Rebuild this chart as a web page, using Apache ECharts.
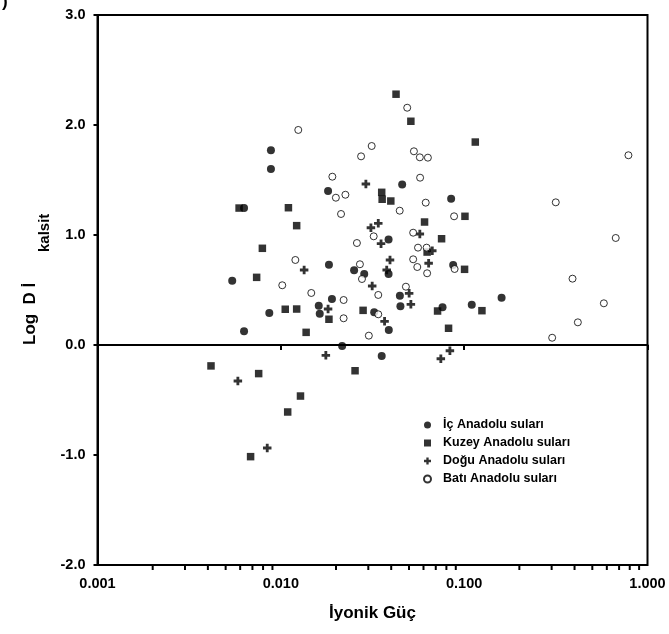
<!DOCTYPE html>
<html>
<head>
<meta charset="utf-8">
<script src="https://cdn.jsdelivr.net/npm/echarts@6/dist/echarts.min.js"></script>
<style>
  html, body { margin: 0; padding: 0; background: #fff; }
  #chart { width: 669px; height: 634px; }
</style>
</head>
<body>
<div id="chart"></div>
<script>
// İç Anadolu suları (dolu daire)
let icX = [0.00883, 0.00883, 0.0181, 0.0063, 0.0459, 0.0849, 0.0387, 0.0183, 0.00543, 0.0251,
	0.0285, 0.0387, 0.0871, 0.0446, 0.0449, 0.0190, 0.0161, 0.0163, 0.00865, 0.0063,
	0.0323, 0.0388, 0.0762, 0.110, 0.160, 0.0216, 0.0355];
let icY = [1.77, 1.60, 1.40, 1.245, 1.46, 1.33, 0.96, 0.73, 0.585, 0.68,
	0.645, 0.645, 0.727, 0.448, 0.352, 0.418, 0.357, 0.285, 0.291, 0.125,
	0.297, 0.136, 0.343, 0.366, 0.43, -0.01, -0.10];

// Kuzey Anadolu suları (dolu kare)
let kuzeyX = [0.0425, 0.0512, 0.115, 0.0355, 0.0357, 0.0398, 0.00592, 0.011, 0.101, 0.0608,
	0.0122, 0.0753, 0.00793, 0.0628, 0.1005, 0.00738, 0.01057, 0.0122, 0.0281, 0.0716,
	0.125, 0.0183, 0.01374, 0.0822, 0.00416, 0.0254, 0.00757, 0.0128, 0.0109, 0.00684];
let kuzeyY = [2.28, 2.034, 1.845, 1.388, 1.325, 1.309, 1.245, 1.248, 1.17, 1.118,
	1.085, 0.966, 0.879, 0.845, 0.688, 0.615, 0.325, 0.327, 0.315, 0.309,
	0.312, 0.234, 0.115, 0.152, -0.19, -0.234, -0.26, -0.464, -0.609, -1.015];

// Doğu Anadolu suları (artı)
let doguX = [0.0291, 0.034, 0.031, 0.0352, 0.0573, 0.067, 0.0394, 0.064, 0.0134, 0.0378,
	0.0315, 0.0501, 0.0512, 0.0181, 0.0368, 0.0176, 0.0836, 0.0746, 0.00583, 0.00843];
let doguY = [1.464, 1.106, 1.066, 0.921, 1.009, 0.857, 0.773, 0.743, 0.682, 0.682,
	0.536, 0.47, 0.37, 0.327, 0.215, -0.094, -0.052, -0.125, -0.327, -0.936];

// Batı Anadolu suları (boş daire)
let batiX = [0.01245, 0.0489, 0.0313, 0.0274, 0.0532, 0.0573, 0.0634, 0.0575, 0.0191, 0.01996,
	0.0225, 0.0617, 0.0445, 0.0213, 0.0881, 0.0321, 0.026, 0.0527, 0.056, 0.0624,
	0.0527, 0.0555, 0.0628, 0.0887, 0.027, 0.0277, 0.012, 0.01018, 0.01466, 0.034,
	0.0481, 0.022, 0.022, 0.034, 0.0302, 0.787, 0.316, 0.671, 0.39, 0.578,
	0.417, 0.302];
let batiY = [1.955, 2.157, 1.809, 1.715, 1.761, 1.706, 1.703, 1.521, 1.53, 1.339,
	1.366, 1.294, 1.221, 1.191, 1.17, 0.988, 0.927, 1.021, 0.885, 0.885,
	0.779, 0.709, 0.652, 0.691, 0.734, 0.60, 0.773, 0.543, 0.473, 0.455,
	0.53, 0.409, 0.243, 0.279, 0.085, 1.725, 1.297, 0.973, 0.603, 0.379,
	0.206, 0.066];

// log eksenindeki ara çentikler
let minorTicks = [0.002, 0.003, 0.004, 0.005, 0.006, 0.007, 0.008, 0.009,
	0.02, 0.03, 0.04, 0.05, 0.06, 0.07, 0.08, 0.09,
	0.2, 0.3, 0.4, 0.5, 0.6, 0.7, 0.8, 0.9];

let seriesNames = ['İç Anadolu suları', 'Kuzey Anadolu suları', 'Doğu Anadolu suları', 'Batı Anadolu suları'];

let font = 'Arial, "Liberation Sans", Helvetica, sans-serif';
let plusPath = 'path://M3,0H6V3H9V6H6V9H3V6H0V3H3Z';

function pairs(xs, ys) {
	return xs.map((x, i) => [x, ys[i]]);
}

let chart = echarts.init(document.getElementById('chart'), null, { renderer: 'canvas' });

let option = {
	animation: false,
	backgroundColor: '#fff',
	textStyle: { fontFamily: font },
	grid: {
		left: 97.5, right: 21.5, top: 15, bottom: 69,
		show: true, borderColor: '#000', borderWidth: 2, backgroundColor: 'transparent'
	},
	legend: {
		orient: 'vertical',
		left: 418, top: 413,
		itemWidth: 7, itemHeight: 7, itemGap: 4,
		data: seriesNames,
		textStyle: { fontFamily: font, fontSize: 12.5, fontWeight: 'bold', color: '#000', lineHeight: 14, padding: [0, 0, 0, 7] }
	},
	xAxis: {
		type: 'log',
		logBase: 10,
		min: 0.001, max: 1,
		name: 'İyonik Güç',
		nameLocation: 'middle',
		nameGap: 40,
		nameTextStyle: { fontFamily: font, fontSize: 17, fontWeight: 'bold', color: '#000' },
		axisLine: { lineStyle: { color: '#000', width: 2 } },
		axisTick: { inside: false, length: 5, lineStyle: { color: '#000', width: 2 } },
		axisLabel: {
			margin: 11, color: '#000', fontSize: 14.5, fontWeight: 'bold', fontFamily: font,
			formatter: v => Number(v).toFixed(3)
		},
		splitLine: { show: false }
	},
	yAxis: {
		type: 'value',
		min: -2, max: 3, interval: 1,
		axisLine: { show: true, lineStyle: { color: '#000', width: 2 } },
		axisTick: { show: true, inside: false, length: 4, lineStyle: { color: '#000', width: 2 } },
		axisLabel: {
			margin: 12, color: '#000', fontSize: 14.5, fontWeight: 'bold', fontFamily: font,
			formatter: v => v.toFixed(1)
		},
		splitLine: { show: false }
	},
	graphic: [
		{
			type: 'text', left: 2, top: -6,
			style: { text: ')', fontFamily: font, fontSize: 17, fontWeight: 'bold', fill: '#000' }
		},
		{
			type: 'text', x: 22, y: 345, rotation: Math.PI / 2,
			style: { text: 'Log  D İ', fontFamily: font, fontSize: 17, fontWeight: 'bold', fill: '#000', textAlign: 'left', textVerticalAlign: 'top' }
		},
		{
			type: 'text', x: 37, y: 252, rotation: Math.PI / 2,
			style: { text: 'kalsit', fontFamily: font, fontSize: 15, fontWeight: 'bold', fill: '#000', textAlign: 'left', textVerticalAlign: 'top' }
		}
	],
	series: [
		{
			name: seriesNames[0], type: 'scatter', symbol: 'circle', symbolSize: 8,
			itemStyle: { color: '#000' },
			data: pairs(icX, icY),
			markLine: {
				silent: true, symbol: 'none', label: { show: false },
				lineStyle: { color: '#000', width: 1.5, type: 'solid' },
				data: [{ yAxis: 0 }]
			}
		},
		{
			name: seriesNames[1], type: 'scatter', symbol: 'rect', symbolSize: 7.5,
			itemStyle: { color: '#000' },
			data: pairs(kuzeyX, kuzeyY)
		},
		{
			name: seriesNames[2], type: 'scatter', symbol: plusPath, symbolSize: 8.5,
			itemStyle: { color: '#000' },
			data: pairs(doguX, doguY)
		},
		{
			name: seriesNames[3], type: 'scatter', symbol: 'circle', symbolSize: 7,
			itemStyle: { color: '#fff', borderColor: '#000', borderWidth: 1 },
			data: pairs(batiX, batiY)
		},
		{
			type: 'custom',
			clip: false,
			silent: true,
			data: minorTicks.map(v => [v, -2]),
			renderItem: function (params, api) {
				let p = api.coord([api.value(0), api.value(1)]);
				return {
					type: 'line',
					shape: { x1: p[0], y1: p[1], x2: p[0], y2: p[1] + 5 },
					style: { stroke: '#000', lineWidth: 2 }
				};
			}
		}
	]
};

chart.setOption(option);
</script>
</body>
</html>
